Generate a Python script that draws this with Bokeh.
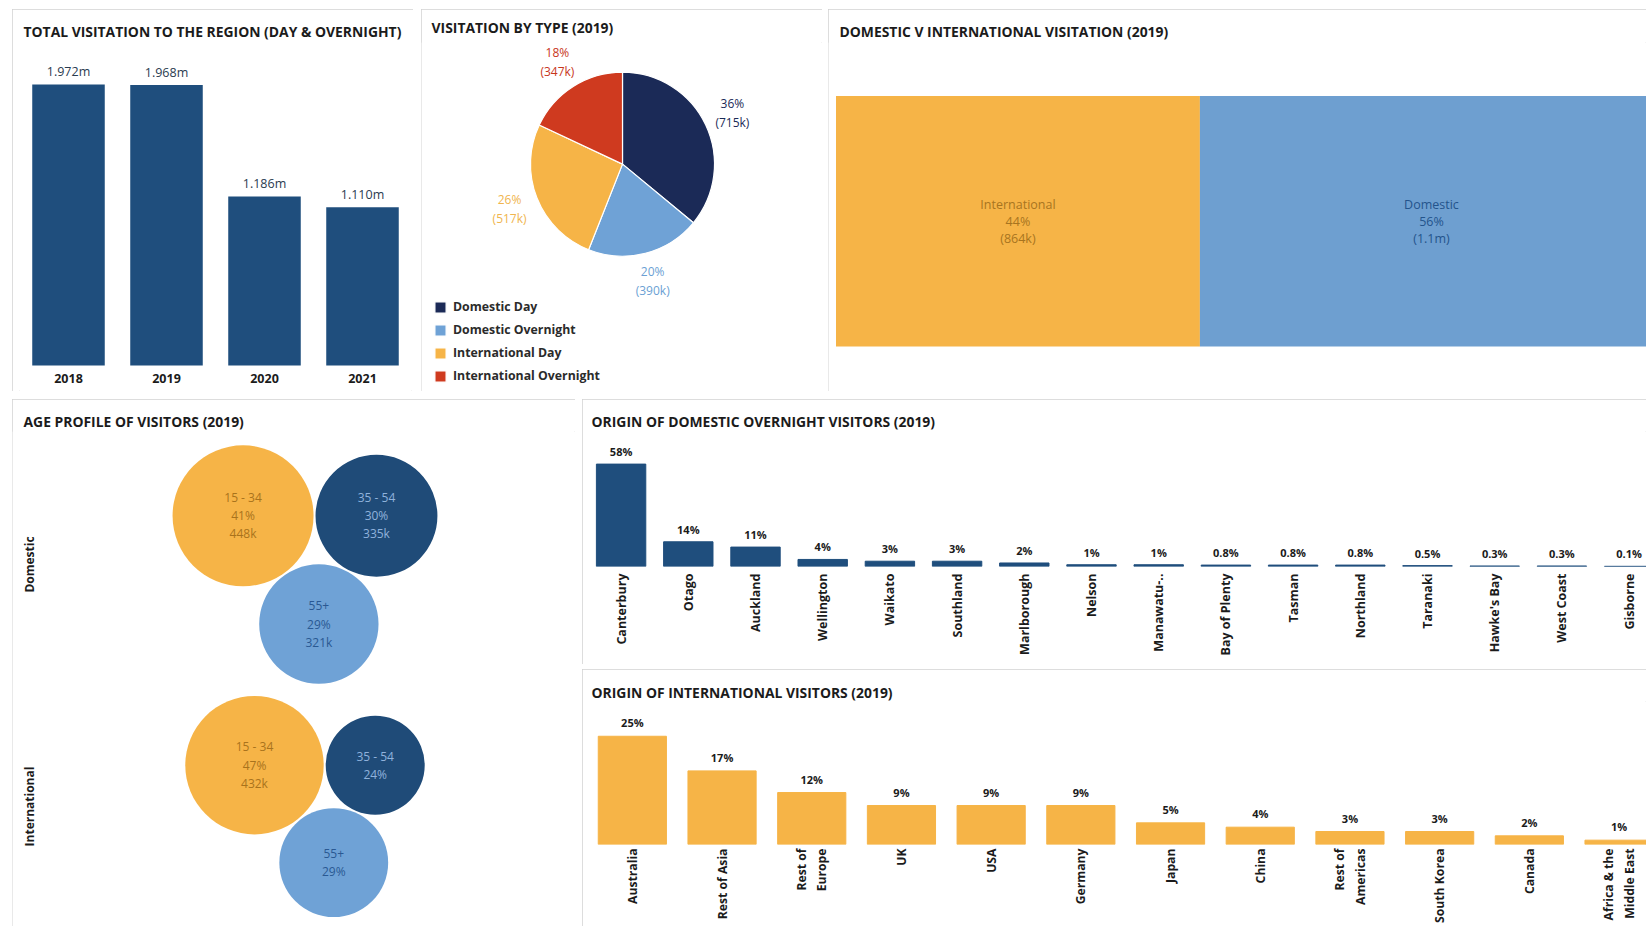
import math
import numpy as np
from bokeh.plotting import figure
from bokeh.layouts import row, column
from bokeh.models import (ColumnDataSource, Range1d, FactorRange, Spacer, Legend,
                          LegendItem, LabelSet, FixedTicker)
from bokeh.core.properties import value
from bokeh.embed import file_html
from bokeh.resources import INLINE

# ---------------- data ----------------
years = ["2018", "2019", "2020", "2021"]
total_visits_m = [1.972, 1.968, 1.186, 1.110]

visit_types = ["Domestic Day", "Domestic Overnight", "International Day", "International Overnight"]
visit_type_pct = [36, 20, 26, 18]
visit_type_k = [715, 390, 517, 347]

markets = ["International", "Domestic"]
market_pct = [44, 56]
market_volume = ["864k", "1.1m"]

age_rows = ["Domestic", "International"]
age_groups = ["15 - 34", "35 - 54", "55+"]
age_domestic_pct = [41, 30, 29]
age_domestic_k = [448, 335, 321]
age_international_pct = [47, 24, 29]
age_international_k = [432, 221, 267]

dom_regions = ["Canterbury", "Otago", "Auckland", "Wellington", "Waikato", "Southland",
               "Marlborough", "Nelson", "Manawatu-..", "Bay of Plenty", "Tasman", "Northland",
               "Taranaki", "Hawke's Bay", "West Coast", "Gisborne"]
dom_region_pct = [58, 14, 11, 4, 3, 3, 2, 1, 1, 0.8, 0.8, 0.8, 0.5, 0.3, 0.3, 0.1]

int_markets = ["Australia", "Rest of Asia", "Rest of\nEurope", "UK", "USA", "Germany", "Japan",
               "China", "Rest of\nAmericas", "South Korea", "Canada", "Africa & the\nMiddle East"]
int_market_pct = [25, 17, 12, 9, 9, 9, 5, 4, 3, 3, 2, 1]

# ---------------- style ----------------
FONT = "Open Sans"
INK = "#1b1b1b"
BAR_BLUE = "#1f4e7d"
NAVY = "#1b2a57"
AGE_NAVY = "#1f4b78"
LIGHT_BLUE = "#6fa2d6"
YELLOW = "#f6b447"
RED = "#cf3a1f"
BORDER = "#d2d2d2"
TOP = 32          # frame top inside every panel (title sits above it)


def panel(width, height, title, title_offset, title_standoff=1, **kw):
    p = figure(width=width, height=height, output_backend="svg", toolbar_location=None, **kw)
    p.title.text = title
    p.title.align = "left"
    p.title.offset = title_offset
    p.title.text_font = FONT
    p.title.text_font_size = "13.9px"
    p.title.text_font_style = "bold"
    p.title.text_color = INK
    p.title.standoff = title_standoff
    p.outline_line_color = None
    p.background_fill_color = "white"
    p.border_fill_color = "white"
    p.styles = {"outline": f"1px solid {BORDER}", "outline-offset": "-1px"}
    return p


def style_cat_axis(ax, size, standoff, orientation=None):
    ax.axis_line_color = None
    ax.major_tick_line_color = None
    ax.minor_tick_line_color = None
    ax.major_tick_out = 0
    ax.major_tick_in = 0
    ax.minor_tick_out = 0
    ax.minor_tick_in = 0
    ax.major_label_standoff = standoff
    ax.major_label_text_font = FONT
    ax.major_label_text_font_size = size
    ax.major_label_text_font_style = "bold"
    ax.major_label_text_color = INK
    if orientation is not None:
        ax.major_label_orientation = orientation


def pct_fmt(v):
    return f"{v:g}%"


# ---------------- P1: total visitation ----------------
P1_PX = 143.0  # pixels per million
src1 = ColumnDataSource(dict(year=years, value=total_visits_m, zero=[0] * len(years),
                             label=[f"{v:.3f}m" for v in total_visits_m]))
p1 = panel(401, 382, "TOTAL VISITATION TO THE REGION (DAY & OVERNIGHT)", 4, title_standoff=3,
           x_range=FactorRange(*years), y_range=Range1d(-26 / P1_PX, (356 - TOP) / P1_PX),
           x_axis_location=None, y_axis_location=None,
           min_border_left=7, min_border_right=2, min_border_top=TOP, min_border_bottom=0)
p1.vbar(x="year", top="value", width=0.74, source=src1, fill_color=BAR_BLUE, line_color=None)
p1.add_layout(LabelSet(x="year", y="value", text="label", source=src1, text_align="center",
                       text_baseline="bottom", y_offset=4, text_font=value(FONT),
                       text_font_size="12.5px", text_color="#2a3b4f"))
p1.add_layout(LabelSet(x="year", y="zero", text="year", source=src1, text_align="center",
                       text_baseline="top", y_offset=-8, text_font=value(FONT),
                       text_font_size="12.5px", text_font_style="bold", text_color=INK))
p1.xgrid.grid_line_color = None
p1.ygrid.grid_line_color = None

# ---------------- P2: visitation by type (pie) ----------------
cum = np.cumsum([0] + visit_type_pct) / 100.0
starts = math.pi / 2 - 2 * math.pi * cum[:-1]
ends = math.pi / 2 - 2 * math.pi * cum[1:]
mids = (starts + ends) / 2
PIE_R = 92
LAB_R = PIE_R * 1.32
src2 = ColumnDataSource(dict(
    type=visit_types, start=starts, end=ends,
    color=[NAVY, LIGHT_BLUE, YELLOW, RED],
    lx=LAB_R * np.cos(mids), ly=LAB_R * np.sin(mids),
    label=[f"{p}%\n({k}k)" for p, k in zip(visit_type_pct, visit_type_k)],
    lcolor=[NAVY, "#6b9fd4", "#f0b54e", "#c8361c"],
))
p2 = panel(401, 382, "VISITATION BY TYPE (2019)", 10, title_standoff=12,
           x_range=Range1d(-201, 200), y_range=Range1d(-228, 154 - TOP),
           x_axis_type=None, y_axis_type=None,
           min_border_left=0, min_border_right=0, min_border_bottom=0, min_border_top=TOP)
wr = p2.wedge(x=0, y=0, radius=PIE_R, start_angle="start", end_angle="end", direction="clock",
              fill_color="color", line_color="white", line_width=1.2, source=src2)
p2.text(x="lx", y="ly", text="label", source=src2, text_color="lcolor", text_align="center",
        text_baseline="middle", text_font=value(FONT), text_font_size="12px",
        text_line_height=1.12)
p2.xgrid.grid_line_color = None
p2.ygrid.grid_line_color = None
legend = Legend(items=[LegendItem(label=t, renderers=[wr], index=i) for i, t in enumerate(visit_types)],
                location=(12, 7), padding=0, margin=0, spacing=6, glyph_width=14, glyph_height=14,
                label_height=14, label_standoff=6, label_text_font=FONT,
                label_text_font_size="12.3px", label_text_font_style="bold",
                label_text_color="#2b2b2b", border_line_color=None, background_fill_alpha=0)
p2.add_layout(legend)

# ---------------- P3: domestic v international (treemap strip) ----------------
P3_PX = 251.2  # pixels per unit of tile height
right3 = np.cumsum(market_pct)
left3 = right3 - np.array(market_pct)
src3 = ColumnDataSource(dict(
    left=left3, right=right3, mid=(left3 + right3) / 2,
    color=[YELLOW, "#6e9fd0"],
    tcolor=["#a8741f", "#24548c"],
    label=[f"{m}\n{p}%\n({v})" for m, p, v in zip(markets, market_pct, market_volume)],
))
p3 = panel(818, 382, "DOMESTIC V INTERNATIONAL VISITATION (2019)", 11, title_standoff=3,
           x_range=Range1d(-0.907, 98.0),
           y_range=Range1d(-(382 - 336.8) / P3_PX, 1 + (85.6 - TOP) / P3_PX),
           x_axis_type=None, y_axis_type=None,
           min_border_left=0, min_border_right=0, min_border_bottom=0, min_border_top=TOP)
p3.quad(left="left", right="right", bottom=0, top=1, fill_color="color", line_color=None, source=src3)
p3.text(x="mid", y=0.5, text="label", source=src3, text_color="tcolor", text_align="center",
        text_baseline="middle", text_font=value(FONT), text_font_size="12.5px",
        text_line_height=0.99)
p3.xgrid.grid_line_color = None
p3.ygrid.grid_line_color = None

# ---------------- P4: age profile bubbles ----------------
R_SCALE = 3.33
GAP = 2.0
ROW_H = 242.0
GROUP_CX = 292.5


def pack_three(vals):
    r = [R_SCALE * math.sqrt(v) for v in vals]
    d = r[0] + r[1] + GAP
    a = r[0] + r[2] + GAP
    b = r[1] + r[2] + GAP
    x3 = (a * a - b * b + d * d) / (2 * d)
    y3 = -math.sqrt(max(a * a - x3 * x3, 0))
    xs = [0.0, d, x3]
    ys = [0.0, 0.0, y3]
    xmin = min(x - rr for x, rr in zip(xs, r)); xmax = max(x + rr for x, rr in zip(xs, r))
    ymin = min(y - rr for y, rr in zip(ys, r)); ymax = max(y + rr for y, rr in zip(ys, r))
    return xs, ys, r, (xmin + xmax) / 2, (ymin + ymax) / 2


bx, by, br, bfill, btext, blabel = [], [], [], [], [], []
row_centers = []
fills = [YELLOW, AGE_NAVY, LIGHT_BLUE]
tcols = ["#a9731c", "#8fb2dc", "#2a5993"]
for ri, (vals, pcts) in enumerate([(age_domestic_k, age_domestic_pct),
                                   (age_international_k, age_international_pct)]):
    cy = 2 * ROW_H - (ri + 0.5) * ROW_H
    row_centers.append(cy)
    xs, ys, rs, gx, gy = pack_three(vals)
    for gi in range(3):
        bx.append(xs[gi] - gx + GROUP_CX)
        by.append(ys[gi] - gy + cy)
        br.append(rs[gi])
        bfill.append(fills[gi])
        btext.append(tcols[gi])
        if ri == 0 or gi == 0:
            blabel.append(f"{age_groups[gi]}\n{pcts[gi]}%\n{vals[gi]}k")
        else:
            blabel.append(f"{age_groups[gi]}\n{pcts[gi]}%")

src4 = ColumnDataSource(dict(x=bx, y=by, r=br, fill=bfill, tc=btext, label=blabel))
p4 = panel(563, 527, "AGE PROFILE OF VISITORS (2019)", 11,
           x_range=Range1d(0, 563), y_range=Range1d(1, 1 + 527 - TOP),
           x_axis_type=None, y_axis_type=None,
           min_border_left=0, min_border_right=0, min_border_bottom=0, min_border_top=TOP)
p4.circle(x="x", y="y", radius="r", fill_color="fill", line_color=None, source=src4)
p4.text(x="x", y="y", text="label", source=src4, text_color="tc", text_align="center",
        text_baseline="middle", text_font=value(FONT), text_font_size="12px",
        text_line_height=1.07)
p4.text(x=[17.4] * len(age_rows), y=row_centers, text=age_rows, angle=math.pi / 2,
        text_align="center", text_baseline="middle", text_font=value(FONT),
        text_font_size="12px", text_font_style="bold", text_color=INK)
p4.xgrid.grid_line_color = None
p4.ygrid.grid_line_color = None

# ---------------- P5: origin of domestic overnight visitors ----------------
idx5 = list(range(len(dom_regions)))
src5 = ColumnDataSource(dict(x=idx5, top=dom_region_pct, label=[pct_fmt(v) for v in dom_region_pct]))
STEP5 = 67.2
P5_PX = 1.759  # pixels per percentage point
p5 = panel(1064, 265, "ORIGIN OF DOMESTIC OVERNIGHT VISITORS (2019)", 4,
           x_range=Range1d(-0.5, -0.5 + 1059 / STEP5), y_range=Range1d(0, (166.5 - TOP) / P5_PX),
           min_border_left=5, min_border_right=0, min_border_top=TOP, min_border_bottom=98)
p5.vbar(x="x", top="top", width=0.735, source=src5, fill_color=BAR_BLUE, line_color=BAR_BLUE,
        line_width=1)
p5.add_layout(LabelSet(x="x", y="top", text="label", source=src5, text_align="center",
                       text_baseline="bottom", y_offset=5, text_font=value(FONT),
                       text_font_size="11px", text_font_style="bold", text_color=INK))
p5.yaxis.visible = False
p5.xgrid.grid_line_color = None
p5.ygrid.grid_line_color = None
ax5 = p5.xaxis[0]
ax5.ticker = FixedTicker(ticks=idx5)
ax5.major_label_overrides = {i: n for i, n in zip(idx5, dom_regions)}
style_cat_axis(ax5, "12.5px", 7, math.pi / 2)

# ---------------- P6: origin of international visitors ----------------
idx6 = list(range(len(int_markets)))
src6 = ColumnDataSource(dict(x=idx6, top=int_market_pct, label=[pct_fmt(v) for v in int_market_pct]))
STEP6 = 89.7
P6_PX = 4.33  # pixels per percentage point
p6 = panel(1064, 257, "ORIGIN OF INTERNATIONAL VISITORS (2019)", 4, title_standoff=0,
           x_range=Range1d(-0.5, -0.5 + 1059 / STEP6), y_range=Range1d(0, (175 - TOP) / P6_PX),
           min_border_left=5, min_border_right=0, min_border_top=TOP, min_border_bottom=82)
p6.vbar(x="x", top="top", width=0.76, source=src6, fill_color=YELLOW, line_color=YELLOW,
        line_width=1)
p6.add_layout(LabelSet(x="x", y="top", text="label", source=src6, text_align="center",
                       text_baseline="bottom", y_offset=6, text_font=value(FONT),
                       text_font_size="11px", text_font_style="bold", text_color=INK))
p6.yaxis.visible = False
p6.xgrid.grid_line_color = None
p6.ygrid.grid_line_color = None
ax6 = p6.xaxis[0]
ax6.ticker = FixedTicker(ticks=idx6)
ax6.major_label_overrides = {i: n for i, n in zip(idx6, int_markets)}
style_cat_axis(ax6, "12.2px", 4, math.pi / 2)

# ---------------- layout ----------------
layout = column(
    Spacer(width=10, height=9),
    row(Spacer(width=12, height=382), p1, Spacer(width=8, height=382), p2,
        Spacer(width=6, height=382), p3),
    Spacer(width=10, height=8),
    row(Spacer(width=12, height=527), p4, Spacer(width=7, height=527),
        column(p5, Spacer(width=1064, height=5), p6)),
)

open("out.html", "w").write(file_html(layout, INLINE, title="Regional visitation dashboard"))
